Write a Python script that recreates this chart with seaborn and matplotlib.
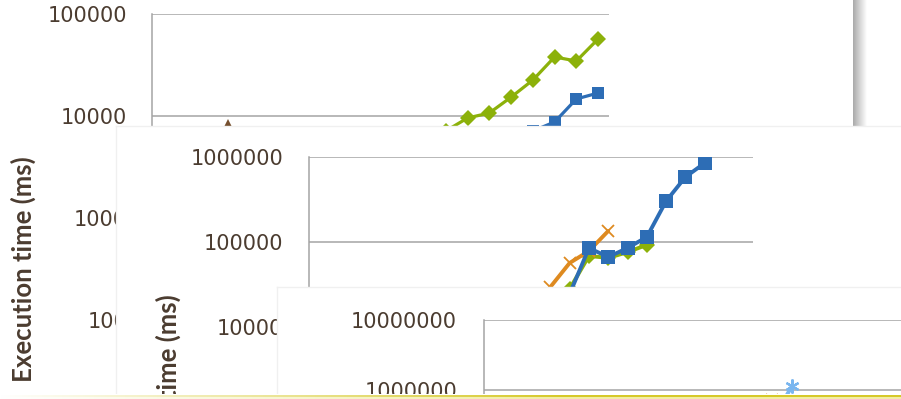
import numpy as np
import matplotlib
matplotlib.use("Agg")
import matplotlib.pyplot as plt
from matplotlib.ticker import LogLocator, FuncFormatter, NullLocator
import seaborn as sns

W, H = 901, 399

# ---- chart A (back card): 21 input sizes, time axis 100 .. 100000 ms
a_green_idx = [12, 13, 14, 15, 16, 17, 18, 19, 20]
a_green_ms = [5200, 7130, 9560, 10700, 15300, 22500, 37900, 34600, 56900]
a_blue_idx = [16, 17, 18, 19, 20]
a_blue_ms = [4500, 7130, 8730, 14700, 16800]
a_brown_idx = [0, 1, 2, 3]
a_brown_ms = [900, 2000, 3500, 8300]

# ---- chart B (middle card): 23 input sizes, time axis up to 1000000 ms
b_blue_idx = [12, 13, 14, 15, 16, 17, 18, 19, 20]
b_blue_ms = [12000, 24400, 84900, 66700, 84900, 114600, 303000, 582000, 850000]
b_green_idx = [12, 13, 14, 15, 16, 17]
b_green_ms = [15000, 28000, 68500, 65000, 76000, 92500]
b_orange_idx = [11, 12, 13, 14, 15]
b_orange_ms = [15000, 29500, 56600, 78300, 134700]

# ---- chart C (front card): time axis up to 10000000 ms
c_sky_idx = [14, 15]
c_sky_ms = [360000, 1140000]
c_orange_idx = [13, 14]
c_orange_ms = [300000, 720000]

TEXT = "#4b3c30"
GRID = "#a4a4a4"
GREEN = "#8cb10a"
BLUE = "#2d6db5"
ORANGE = "#de8a20"
SKY = "#7ab6ef"
BROWN = "#76502f"

sns.set_style("white")
plt.rcParams["font.family"] = ["DejaVu Sans"]

fig = plt.figure(figsize=(W / 100, H / 100), dpi=100)
fig.patch.set_facecolor("white")


def rect(x0, y0, x1, y1):
    return [x0 / W, 1 - y1 / H, (x1 - x0) / W, (y1 - y0) / H]


def blank(a):
    a.set_xticks([])
    a.set_yticks([])
    for s in a.spines.values():
        s.set_visible(False)


def card(x0, y0, x1, y1, z):
    a = fig.add_axes(rect(x0, y0, x1, y1), zorder=z)
    a.set_facecolor("white")
    blank(a)
    for side in ("left", "top"):
        a.spines[side].set_visible(True)
        a.spines[side].set_color("#f0f0f0")
        a.spines[side].set_linewidth(1.0)
    return a


def chart(x0, top, x1, decade, ndec, ncat, z):
    bottom = top + decade * ndec
    ax = fig.add_axes(rect(x0, top, x1, bottom), zorder=z)
    ax.set_facecolor("none")
    ax.set_xlim(-0.5, ncat - 0.5)
    return ax


def style(ax, ymax, ndec, tick_px, pad_px):
    ax.set_yscale("log")
    ax.set_ylim(ymax / 10 ** ndec, ymax)
    ax.yaxis.set_major_locator(LogLocator(base=10, numticks=20))
    ax.yaxis.set_minor_locator(NullLocator())
    ax.yaxis.set_major_formatter(FuncFormatter(lambda v, _: f"{v:.0f}"))
    ax.set_xticks([])
    ax.set_xlabel("")
    ax.set_ylabel("")
    for side in ("top", "right", "bottom"):
        ax.spines[side].set_visible(False)
    ax.spines["left"].set_color(GRID)
    ax.spines["left"].set_linewidth(1.1)
    ax.yaxis.grid(True, color=GRID, linewidth=1.1)
    ax.xaxis.grid(False)
    ax.set_axisbelow(True)
    ax.tick_params(axis="y", which="major", direction="out", length=tick_px * 0.72,
                   width=1.1, color=GRID, pad=pad_px * 0.72, labelsize=15,
                   labelcolor=TEXT)


def series(ax, xs, ys, color, marker, ms, lw, mew=0.0, mfc=None):
    sns.lineplot(x=xs, y=ys, ax=ax, color=color, marker=marker, markersize=ms,
                 linewidth=lw, markeredgewidth=mew, markeredgecolor=color,
                 markerfacecolor=mfc if mfc is not None else color,
                 estimator=None, sort=False)


def ylabel(ax, x, y):
    ax.text(x, y, "Execution time (ms)", transform=ax.transAxes, rotation=90,
            ha="center", va="center", fontsize=18.5, fontweight="bold", color=TEXT,
            family="Lato")


# shadow along the right edge of the back card
shadow = fig.add_axes(rect(853, -2, 867, 127), zorder=0.5)
blank(shadow)
g = np.linspace(0.60, 1.0, 64) ** 0.8
img = np.dstack([np.tile(g, (4, 1))] * 3)
shadow.imshow(img, aspect="auto", extent=[0, 1, 0, 1])
shadow.set_xlim(0, 1)
shadow.set_ylim(0, 1)

# ---- chart A
axA = chart(152, 14, 609, 102, 5, 21, 1)
series(axA, a_green_idx, a_green_ms, GREEN, "D", 8.0, 2.3)
series(axA, a_blue_idx, a_blue_ms, BLUE, "s", 8.0, 2.3)
series(axA, a_brown_idx, a_brown_ms, BROWN, "^", 7.5, 2.3)
style(axA, 1e5, 5, 9, 16)
ylabel(axA, -0.282, 0.5)

# ---- chart B
card(116, 126, 920, 420, 2)
axB = chart(309, 157, 753, 85, 6, 23, 3)
series(axB, b_green_idx, b_green_ms, GREEN, "D", 8.5, 2.8)
series(axB, b_orange_idx, b_orange_ms, ORANGE, "x", 9.0, 2.8, mew=1.3)
series(axB, b_blue_idx, b_blue_ms, BLUE, "s", 9.5, 2.8)
style(axB, 1e6, 6, 8, 18)
ylabel(axB, -0.3176, 0.5098)

# ---- chart C
card(277, 287, 920, 420, 4)
axC = chart(484, 320, 941, 70, 7, 23, 5)
series(axC, c_orange_idx, c_orange_ms, ORANGE, "x", 9.0, 2.8, mew=1.3)
series(axC, c_sky_idx, c_sky_ms, SKY, (6, 2, 0), 10.0, 2.8, mew=1.6)
style(axC, 1e7, 7, 9, 18)

# yellow rule along the bottom edge of the slide
rule = fig.add_axes(rect(-1, 394, 902, 400), zorder=10)
blank(rule)
rule.set_facecolor("none")
fade = np.clip(np.linspace(0, 1.6, 400), 0, 1)
line_c = np.array([0.84, 0.79, 0.16])
fill_c = np.array([0.95, 0.93, 0.65])
rows = []
for c in (None, line_c, line_c, fill_c, fill_c, fill_c):
    if c is None:
        rows.append(np.ones((400, 3)))
    else:
        rows.append(1 - fade[:, None] * (1 - c[None, :]))
rule.imshow(np.stack(rows), aspect="auto", extent=[0, 1, 0, 1], interpolation="nearest")
rule.set_xlim(0, 1)
rule.set_ylim(0, 1)

fig.savefig("out.png", dpi=100, facecolor="white")
